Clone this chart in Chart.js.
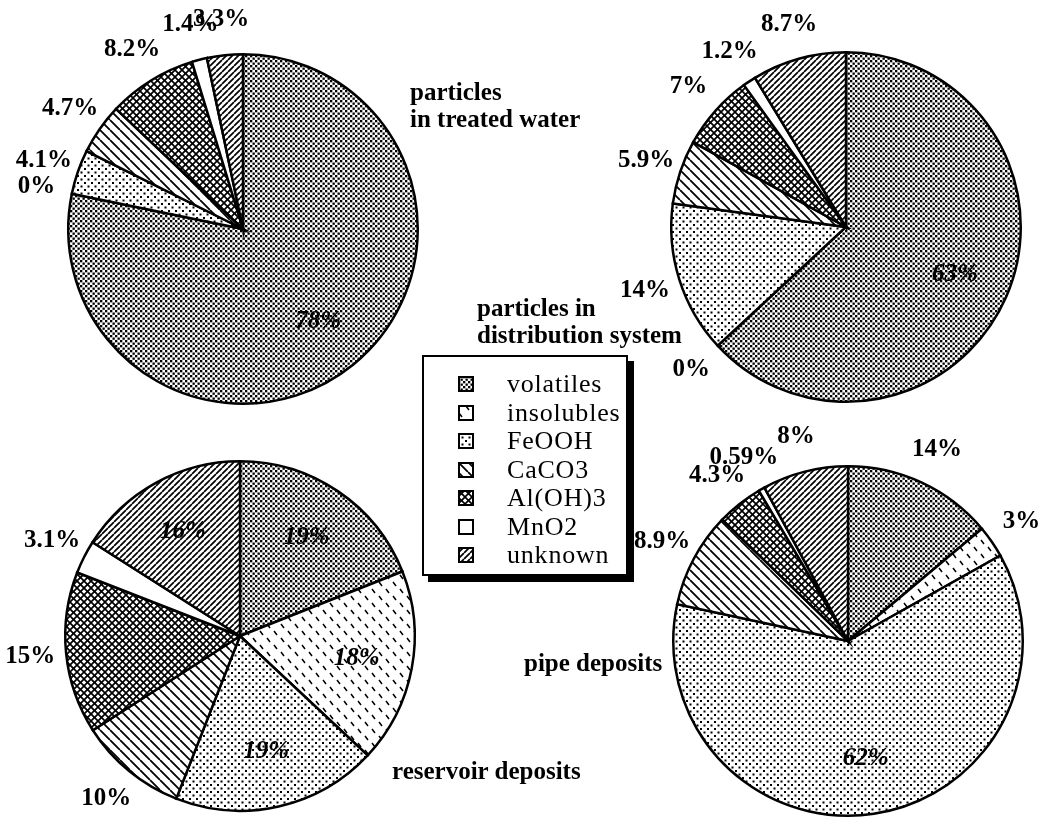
<!DOCTYPE html>
<html>
<head>
<meta charset="utf-8">
<script src="https://cdn.jsdelivr.net/npm/chart.js@4/dist/chart.umd.min.js"></script>
<style>
  html, body { margin: 0; padding: 0; background: #fff; }
  #stage { position: relative; width: 1052px; height: 819px; overflow: hidden; }
  #stage canvas.pie { position: absolute; left: 0; top: 0; }
  .title { position: absolute; font: bold 25px "Liberation Serif", serif; line-height: 27px; color: #000; white-space: nowrap; }
  #legend { position: absolute; left: 422px; top: 355px; width: 206px; height: 221px; border: 2.5px solid #000;
            box-shadow: 6px 6px 0 #000; background: #fff; box-sizing: border-box; padding: 13px 0 0 34px; }
  .item { display: flex; align-items: center; height: 28.5px; font: 26px "Liberation Serif", serif;
          letter-spacing: 0.8px; color: #000; white-space: nowrap; }
  .item canvas { width: 16px; height: 16px; margin-right: 33px; flex: none; }
</style>
</head>
<body>
<div id="stage">
  <canvas class="pie" id="treated" width="1052" height="819"></canvas>
  <canvas class="pie" id="distribution" width="1052" height="819"></canvas>
  <canvas class="pie" id="reservoir" width="1052" height="819"></canvas>
  <canvas class="pie" id="pipe" width="1052" height="819"></canvas>

  <div class="title" style="left:410px; top:78px;">particles<br>in treated water</div>
  <div class="title" style="left:477px; top:294px;">particles in<br>distribution system</div>
  <div class="title" style="left:392px; top:757px;">reservoir deposits</div>
  <div class="title" style="left:524px; top:649px;">pipe deposits</div>

  <div id="legend"></div>
</div>

<script>
// components of the particle / deposit samples
const components = ["volatiles", "insolubles", "FeOOH", "CaCO3", "Al(OH)3", "MnO2", "unknown"];

// percent of each component
const treatedWater       = [78, 0, 4.1, 4.7, 8.2, 1.4, 3.3];
const distributionSystem = [63, 0, 14, 5.9, 7, 1.2, 8.7];
const reservoirDeposits  = [19, 18, 19, 10, 15, 3.1, 16];
const pipeDeposits       = [14, 3, 62, 8.9, 4.3, 0.59, 8];

// --- black & white fill patterns -------------------------------------------
function makeTile(size, draw) {
  const c = document.createElement("canvas");
  c.width = c.height = size;
  const g = c.getContext("2d");
  g.fillStyle = "#fff";
  g.fillRect(0, 0, size, size);
  g.fillStyle = "#000";
  g.strokeStyle = "#000";
  draw(g, size);
  return c;
}

function diag(g, s, w, up) {
  g.lineWidth = w;
  g.beginPath();
  for (let k = -1; k <= 1; k++) {
    if (up) { g.moveTo(k * s, s); g.lineTo(k * s + s, 0); }
    else    { g.moveTo(k * s, 0); g.lineTo(k * s + s, s); }
  }
  g.stroke();
}

// staggered square dots, half a tile apart
function dots(g, s, d) {
  const h = s / 2;
  g.fillRect(0, 0, d, d);
  g.fillRect(h, h, d, d);
}

const tiles = [
  // volatiles: fine stipple
  makeTile(5, (g, s) => dots(g, s, 2.3)),
  // insolubles: short "\" dashes, staggered
  makeTile(14, (g) => {
    g.lineWidth = 1.5;
    g.beginPath();
    g.moveTo(1, 8); g.lineTo(4, 12);
    g.moveTo(8, 1); g.lineTo(11, 5);
    g.stroke();
  }),
  // FeOOH: sparse dots
  makeTile(7, (g, s) => dots(g, s, 2)),
  // CaCO3: wide "\" hatch
  makeTile(10, (g, s) => diag(g, s, 1.8, false)),
  // Al(OH)3: diagonal cross hatch
  makeTile(7, (g, s) => { diag(g, s, 1.7, false); diag(g, s, 1.7, true); }),
  // MnO2: plain white
  makeTile(4, () => {}),
  // unknown: tight "/" hatch
  makeTile(6, (g, s) => diag(g, s, 1.7, true))
];

const patternCtx = document.createElement("canvas").getContext("2d");
const fills = tiles.map((t) => patternCtx.createPattern(t, "repeat"));

// --- percent labels around / inside each pie --------------------------------
const percentLabels = {
  id: "percentLabels",
  afterDatasetsDraw(chart) {
    const ctx = chart.ctx;
    const values = chart.data.datasets[0].data;
    ctx.save();
    ctx.textAlign = "center";
    ctx.textBaseline = "middle";
    ctx.fillStyle = "#000";
    chart.getDatasetMeta(0).data.forEach((arc, i) => {
      const p = arc.getProps(["x", "y", "startAngle", "endAngle", "outerRadius"], true);
      const mid = (p.startAngle + p.endAngle) / 2;
      const inside = values[i] >= 16;
      const r = inside ? p.outerRadius * 0.68 : p.outerRadius + 36;
      ctx.font = (inside ? "italic " : "") + "bold 25px 'Liberation Serif', serif";
      ctx.fillText(values[i] + "%", p.x + Math.cos(mid) * r, p.y + Math.sin(mid) * r);
    });
    ctx.restore();
  }
};

// pie centre on the page; radius 175
function drawPie(id, values, cx, cy) {
  const R = 176;
  new Chart(document.getElementById(id), {
    type: "pie",
    data: {
      labels: components,
      datasets: [{
        data: values,
        backgroundColor: fills,
        borderColor: "#000",
        borderWidth: 2.5,
        borderJoinStyle: "miter"
      }]
    },
    options: {
      responsive: false,
      animation: false,
      events: [],
      layout: {
        padding: { left: cx - R, top: cy - R, right: 1052 - cx - R, bottom: 819 - cy - R }
      },
      plugins: { legend: { display: false }, tooltip: { enabled: false } }
    },
    plugins: [percentLabels]
  });
}

drawPie("treated", treatedWater, 243, 229);
drawPie("distribution", distributionSystem, 846, 227);
drawPie("reservoir", reservoirDeposits, 240, 636);
drawPie("pipe", pipeDeposits, 848, 641);

// --- legend box --------------------------------------------------------------
const legend = document.getElementById("legend");
components.forEach((name, i) => {
  const row = document.createElement("div");
  row.className = "item";
  const sw = document.createElement("canvas");
  sw.width = sw.height = 16;
  const g = sw.getContext("2d");
  g.fillStyle = fills[i];
  g.fillRect(0, 0, 16, 16);
  g.lineWidth = 2;
  g.strokeStyle = "#000";
  g.strokeRect(1, 1, 14, 14);
  row.appendChild(sw);
  row.appendChild(document.createTextNode(name));
  legend.appendChild(row);
});
</script>
</body>
</html>
